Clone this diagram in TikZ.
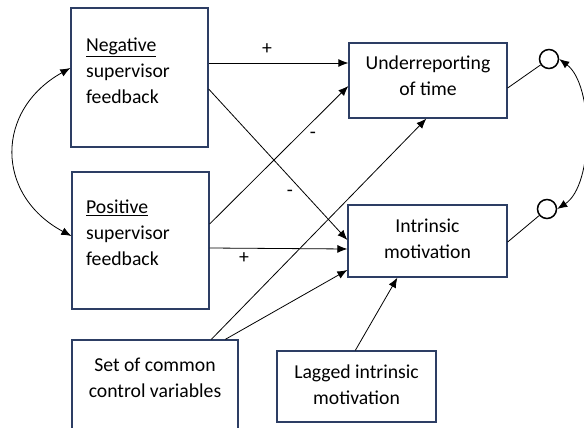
\documentclass[tikz,border=0pt]{standalone}
\usepackage{fontspec}
\setmainfont{Carlito}
\usetikzlibrary{arrows.meta}
\definecolor{boxblue}{RGB}{45,62,100}
\begin{document}
\begin{tikzpicture}[x=1pt,y=-1pt,
  box/.style={draw=boxblue,line width=1.3pt,rectangle,inner sep=0pt},
  txt/.style={inner sep=0pt,font=\fontsize{19.7}{26}\selectfont},
  conn/.style={draw=black,line width=0.8pt,-{Latex[length=10pt,width=8pt]}},
  plain/.style={draw=black,line width=0.8pt},
  sgn/.style={inner sep=0pt,font=\fontsize{19.7}{24}\selectfont},
  err/.style={draw=black,line width=1.5pt,circle,minimum size=19pt,inner sep=0pt}]
\useasboundingbox (0,0) rectangle (584,428);
% boxes
\node[box,minimum width=137pt,minimum height=139pt] (neg) at (139.5,77.5) {};
\node[box,minimum width=137pt,minimum height=137pt] (pos) at (140.5,240.5) {};
\node[box,minimum width=166pt,minimum height=110pt] (set) at (155,395) {};
\node[box,minimum width=159pt,minimum height=71pt] (lag) at (356.5,386.5) {};
\node[box,minimum width=158pt,minimum height=75pt] (under) at (428,80.5) {};
\node[box,minimum width=159pt,minimum height=72pt] (intr) at (427.5,241) {};
% texts
\node[txt,align=left,anchor=west] (negt) at (86,71) {\underline{Negative}\\supervisor\\feedback};
\node[txt,align=left,anchor=west] (post) at (86,233) {\underline{Positive}\\supervisor\\feedback};
\node[txt,align=center] (sett) at (155,378) {Set of common\\control variables};
\node[txt,align=center] (lagt) at (356.5,384.5) {Lagged intrinsic\\motivation};
\node[txt,align=center] (undert) at (428,76) {Underreporting\\of time};
\node[txt,align=center] (intrt) at (427.5,238.5) {Intrinsic\\motivation};
% error circles
\node[err] (e1) at (549,59) {};
\node[err] (e2) at (547,209) {};
% connectors
\draw[conn] ([yshift=14.5pt]neg.east) -- ([yshift=17.5pt]under.west);
\draw[conn] ([yshift=-11.5pt]neg.east) -- ([yshift=1pt]intr.west);
\draw[conn] ([yshift=16.5pt]pos.east) -- ([yshift=-5.5pt]under.west);
\draw[conn] ([yshift=-7.5pt]pos.east) -- ([yshift=-8pt]intr.west);
\draw[conn] ([xshift=140pt]set.north west) -- ([xshift=78pt]under.south west);
\draw[conn] ([xshift=154pt]set.north west) -- ([yshift=-29pt]intr.west);
\draw[conn] ([xshift=79pt]lag.north west) -- ([xshift=50pt]intr.south west);
\draw[plain] ([yshift=-7.5pt]under.east) -- (e1);
\draw[plain] ([yshift=-1pt]intr.east) -- (e2);
% covariance curves
\draw[plain,{Latex[length=10pt,width=8pt]}-{Latex[length=10pt,width=8pt]}]
  ([yshift=9.5pt]neg.west) .. controls (-5,110) and (-5,195) .. ([yshift=4.5pt]pos.west);
\draw[plain,{Latex[length=10pt,width=8pt]}-{Latex[length=10pt,width=8pt]}]
  (e1.east) .. controls (594,85) and (594,185) .. (e2.east);
% signs
\node[sgn] (s1) at (267,49) {+};
\node[sgn] (s2) at (313,135) {-};
\node[sgn] (s3) at (290,193) {-};
\node[sgn] (s4) at (244,258) {+};
\end{tikzpicture}
\end{document}
